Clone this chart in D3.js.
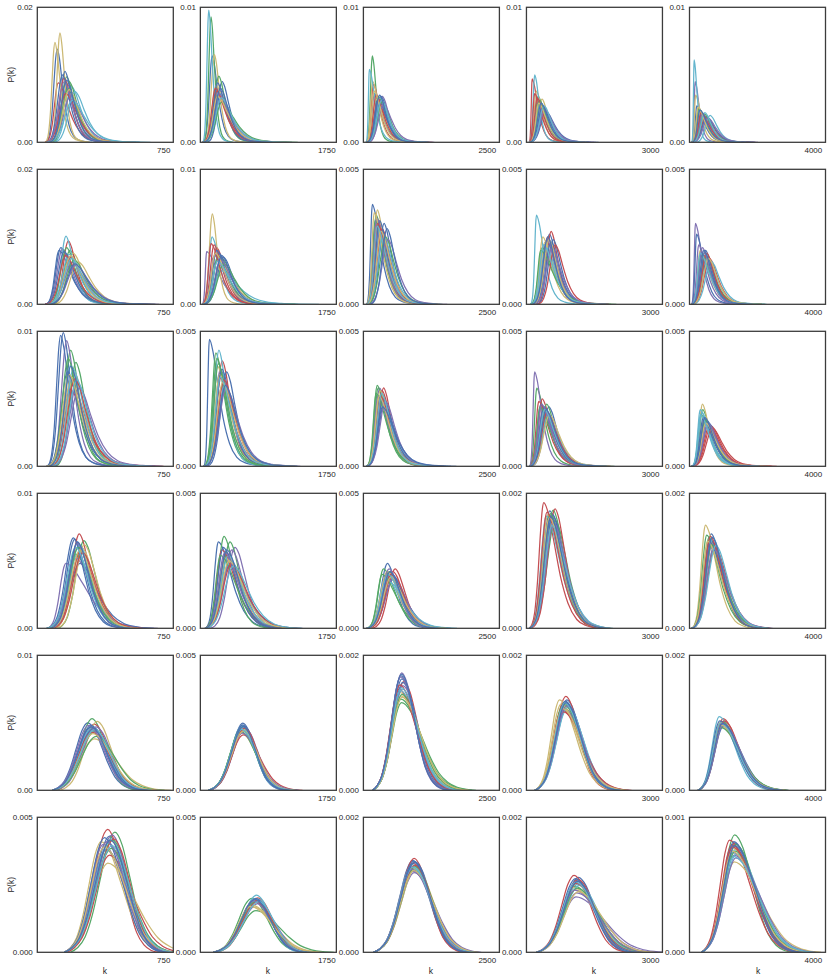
<!DOCTYPE html>
<html><head><meta charset="utf-8">
<script src="https://cdn.jsdelivr.net/npm/d3@7"></script>
<style>
body{margin:0;background:#fff}
svg{display:block}
text{font-family:"Liberation Sans",Arial,sans-serif;fill:#262626}
</style>
</head><body>
<svg id="chart" width="830" height="980"></svg>
<script>
// seaborn "deep" palette, cycled over the curves of every panel
const palette = ["#4C72B0", "#55A868", "#C44E52", "#8172B2", "#CCB974", "#64B5CD"];

// x axis per column: single tick label and upper limit of k
const xTickValues = [750, 1750, 2500, 3000, 4000];
const xDomainMax = [810, 1890, 2755, 3300, 4410];

// y axis upper limit (and tick) per row / column
const yMax = [
  [0.02, 0.01, 0.01, 0.01, 0.01],
  [0.02, 0.01, 0.005, 0.005, 0.005],
  [0.01, 0.005, 0.005, 0.005, 0.005],
  [0.01, 0.005, 0.005, 0.002, 0.002],
  [0.01, 0.005, 0.002, 0.002, 0.002],
  [0.005, 0.005, 0.002, 0.002, 0.001]
];

// smallest k where the curves of a panel start rising
const kStart = [
  [46, 33, 54, 65, 75],
  [46, 25, 60, 100, 65],
  [56, 48, 60, 73, 70],
  [56, 65, 68, 65, 70],
  [89, 110, 183, 206, 276],
  [160, 177, 203, 244, 380]
];

// curve shape templates (offset from the mode in width units, relative height)
const rowTemplate = [0, 0, 0, 1, 2, 3];
const templateU = [
  [-2.2, -1.8, -1.4, -1.0, -0.6, -0.3, 0, 0.4, 0.9, 1.5, 2.2, 3.0, 4.0, 5.2, 6.5],
  [-2.6, -2.1, -1.6, -1.1, -0.6, -0.25, 0, 0.4, 0.9, 1.5, 2.2, 3.0, 3.9, 5.0],
  [-3, -2.5, -2, -1.5, -1, -0.5, 0, 0.5, 1, 1.5, 2, 2.5, 3, 3.5, 4],
  [-3, -2.5, -2, -1.5, -1, -0.5, 0, 0.5, 1, 1.5, 2, 2.5, 3, 3.5]
];
const templateV = [
  [0, 0.02, 0.1, 0.3, 0.65, 0.9, 1, 0.9, 0.65, 0.38, 0.18, 0.07, 0.025, 0.008, 0],
  [0, 0.03, 0.13, 0.38, 0.75, 0.95, 1, 0.92, 0.7, 0.42, 0.2, 0.07, 0.02, 0],
  [0, 0.04, 0.13, 0.32, 0.6, 0.88, 1, 0.9, 0.66, 0.4, 0.2, 0.09, 0.035, 0.01, 0],
  [0, 0.04, 0.13, 0.32, 0.6, 0.88, 1, 0.89, 0.63, 0.36, 0.16, 0.06, 0.015, 0]
];

// per panel: each curve's mode [k, P(k) x 1e4], in drawing order
const row1Peaks = [
  [[119,138],[175,97],[125,88],[180,85],[135,162],[205,82],[165,105],[190,90],[160,95],[200,70],[105,148],[225,75],[150,100],[185,80],[170,72],[160,90],[190,78],[210,62],[175,92]],
  [[165,64],[149,93],[265,34],[250,40],[196,65],[117,98],[303,45],[257,49],[230,38],[280,32],[220,42],[270,36],[240,44],[300,30],[210,40],[260,36],[240,34],[290,33],[280,40]],
  [[223,36],[182,64],[203,43],[385,34],[189,45],[121,54],[360,34],[304,34],[280,30],[330,31],[250,32],[340,33],[300,32],[380,30],[260,35],[410,28],[220,38],[370,31],[330,35]],
  [[420,26],[284,34],[139,47],[300,30],[243,38],[202,50],[470,23],[350,28],[200,36],[400,25],[380,32],[330,30],[390,27],[320,31],[260,33],[450,24],[300,29],[430,27],[360,29]],
  [[238,27],[330,24],[450,20],[184,45],[200,35],[151,61],[400,22],[300,25],[520,19],[420,21],[350,23],[670,20],[560,19],[480,21],[380,22],[600,18],[280,26],[500,22],[340,24]]
];
const row2Peaks = [
  [[140,84],[195,80],[185,94],[150,82],[214,76],[171,101],[130,80],[175,84],[200,70],[210,62],[244,63],[190,74],[160,78],[220,66],[170,72],[230,58],[200,72],[205,68],[225,60]],
  [[321,35],[300,34],[227,42],[88,39],[167,67],[163,50],[260,38],[250,36],[190,44],[200,36],[280,30],[290,25],[230,40],[330,30],[150,45],[280,33],[210,38],[240,32],[300,36]],
  [[182,37],[260,33],[300,31],[350,29],[283,35],[320,28],[420,30],[240,31],[380,28],[270,32],[220,34],[400,26],[330,31],[450,25],[290,30],[500,24],[360,27],[280,29],[480,28]],
  [[560,26],[437,22],[600,27],[500,24],[450,23],[243,33],[650,24],[380,21],[520,25],[560,22],[400,25],[480,21],[600,23],[350,20],[700,22],[620,21],[550,24],[420,22],[520,25]],
  [[400,19],[450,17],[500,18],[194,30],[350,20],[600,17],[230,26],[550,18],[650,17],[300,22],[480,19],[700,16],[520,20],[380,18],[560,19],[420,21],[620,17],[350,19],[470,20]]
];
const row3Peaks = [
  [[155,99],[199,86],[210,60],[175,93],[220,70],[200,75],[139,97],[230,77],[195,57],[240,62],[205,66],[215,72],[180,70],[185,80],[225,65],[250,58],[190,68],[235,64],[200,74]],
  [[126,47],[216,42],[306,39],[280,36],[240,37],[258,43],[366,35],[230,40],[290,33],[320,31],[270,34],[340,30],[300,36],[250,38],[330,32],[360,29],[310,31],[280,33],[350,30]],
  [[360,27],[280,30],[411,29],[330,29],[380,27],[350,25],[420,23],[300,29],[380,28],[300,26],[340,28],[390,24],[400,25],[260,27],[350,26],[450,24],[320,26],[370,27],[390,22]],
  [[545,22],[251,29],[385,25],[199,35],[420,22],[480,20],[350,23],[492,23],[300,24],[400,21],[460,21],[520,19],[430,22],[330,22],[500,20],[370,23],[560,19],[440,21],[480,21]],
  [[560,17],[430,21],[700,15],[500,17],[420,23],[350,21],[620,16],[380,19],[650,15],[550,16],[480,18],[400,20],[450,18],[520,17],[750,14],[600,16],[530,16],[360,19],[500,18]]
];
const row4Peaks = [
  [[224,66],[278,65],[250,70],[170,48],[265,60],[240,55],[254,48],[230,55],[260,58],[230,52],[280,62],[250,62],[215,67],[245,60],[270,56],[240,63],[255,58],[230,60],[240,64]],
  [[251,32],[330,34],[360,28],[483,30],[380,27],[420,25],[400,23],[413,32],[300,29],[440,29],[350,26],[390,27],[320,30],[280,27],[430,24],[340,28],[400,25],[460,23],[370,29]],
  [[487,24],[406,22],[643,22],[550,21],[500,20],[450,19],[600,18],[520,21],[560,20],[620,19],[480,21],[530,17],[580,20],[380,20],[600,21],[520,22],[560,19],[500,20],[540,21]],
  [[566,17.4],[650,17.5],[420,18.6],[600,16.5],[520,16.8],[480,16.6],[620,17.0],[700,16.0],[696,17.7],[550,16.2],[600,15.5],[540,15.8],[640,16.8],[580,17.0],[500,17.2],[660,15.6],[560,16.4],[620,15.2],[590,16.5]],
  [[710,14.0],[640,13.5],[750,12.8],[600,12.5],[519,15.3],[800,12.2],[680,13.2],[560,13.8],[820,12.0],[700,12.6],[620,13.0],[760,13.4],[650,12.8],[720,12.4],[680,13.6],[780,11.8],[590,12.9],[860,12.3],[740,13.5]]
];
const row5Peaks = [
  [[300,50],[326,53],[340,49],[310,46],[357,51],[330,47],[320,48],[345,44],[330,45],[350,47],[340,38],[315,44],[335,46],[350,40],[325,43],[305,48],[330,42],[340,45],[320,47]],
  [[590,24.9],[575,23.5],[600,22.0],[620,23.0],[560,21.5],[585,24.0],[605,23.8],[570,22.5],[595,20.5],[610,22.2],[580,22.8],[600,23.2],[590,24.2],[560,21.8],[615,23.0],[580,21.2],[600,22.0],[575,22.6],[595,23.6]],
  [[760,17.0],[770,13.0],[818,16.1],[775,17.4],[740,14.5],[790,15.0],[780,16.5],[760,13.5],[720,15.0],[800,15.5],[760,14.0],[750,14.8],[795,16.0],[780,14.2],[740,15.6],[760,16.8],[780,13.8],[770,15.2],[770,17.2]],
  [[980,13.4],[900,13.0],[954,13.9],[920,12.2],[800,13.4],[960,13.1],[1000,12.6],[880,12.4],[860,12.0],[940,11.8],[840,12.8],[1000,12.3],[940,13.2],[920,12.7],[900,11.6],[970,12.5],[880,12.1],[930,12.9],[960,13.0]],
  [[1050,10.0],[1000,9.8],[1086,10.6],[1020,9.4],[980,9.6],[964,10.9],[1100,9.5],[1060,10.2],[1120,10.3],[1040,9.9],[1000,10.1],[1080,9.7],[980,10.3],[1030,9.3],[1060,10.0],[1100,9.8],[1040,9.6],[1010,10.0],[1070,9.9]]
];
const row6Peaks = [
  [[430,43.0],[462,44.5],[419,45.5],[393,40.0],[380,41.0],[440,42.0],[410,38.0],[450,41.5],[430,36.0],[445,43.5],[420,33.0],[425,40.5],[400,42.5],[440,38.5],[455,42.0],[415,41.0],[400,39.0],[445,39.5],[435,41.5]],
  [[780,19.5],[712,20.0],[800,20.2],[760,18.5],[740,16.7],[782,21.2],[790,19.0],[770,15.4],[750,19.2],[800,18.0],[720,17.5],[790,19.8],[770,20.0],[760,18.7],[780,18.5],[740,19.0],[700,17.0],[810,18.8],[760,19.6]],
  [[1000,13.6],[1030,12.4],[1027,13.9],[1010,12.0],[990,12.6],[1040,12.8],[1050,13.4],[1010,12.2],[1000,13.2],[1030,11.8],[1060,12.5],[990,13.0],[1020,13.5],[1050,12.7],[1040,12.9],[980,12.3],[1020,12.1],[1000,12.6],[1030,13.3]],
  [[1260,11.1],[1200,10.3],[1154,11.4],[1200,8.2],[1180,9.3],[1240,10.1],[1220,10.6],[1180,9.8],[1250,10.8],[1220,8.8],[1150,9.6],[1280,9.9],[1190,10.9],[1230,9.5],[1210,10.2],[1170,9.2],[1260,9.0],[1200,10.4],[1240,10.5]],
  [[1460,8.1],[1463,8.7],[1300,8.3],[1400,7.4],[1450,6.7],[1480,7.6],[1420,7.9],[1500,8.0],[1380,8.0],[1450,7.2],[1420,7.7],[1520,7.3],[1440,8.2],[1480,7.5],[1400,7.8],[1500,7.0],[1390,7.5],[1430,7.1],[1470,7.9]]
];
const allPeaks = [row1Peaks, row2Peaks, row3Peaks, row4Peaks, row5Peaks, row6Peaks];

// ---------- layout ----------
const panelW = 136, panelH = 135;
const left0 = 37.3, top0 = 7.3, stepX = 163.05, stepY = 162;
const textColor = "#262626";

const svg = d3.select("#chart");

function templateAreas(t) {
  const u = templateU[t], v = templateV[t];
  let al = 0, ar = 0;
  for (let i = 0; i < u.length - 1; i++) {
    const a = (u[i + 1] - u[i]) * (v[i] + v[i + 1]) / 2;
    if (u[i + 1] <= 0) al += a; else ar += a;
  }
  return [al, ar];
}
const areas = templateU.map((_, t) => templateAreas(t));

function curvePoints(t, peakK, peakP, ks) {
  const u = templateU[t], v = templateV[t];
  const [al, ar] = areas[t];
  const w0 = 1 / (peakP * (al + ar));
  const L = -u[0];
  let wl = Math.min(w0, (peakK - ks) / L);
  wl = Math.max(wl, 0.15 * w0);
  const wr = Math.max((1 / peakP - wl * al) / ar, wl * 0.8);
  return u.map((uu, i) => [peakK + uu * (uu < 0 ? wl : wr), peakP * v[i]]);
}

const line = d3.line().curve(d3.curveMonotoneX);

for (let r = 0; r < 6; r++) {
  for (let c = 0; c < 5; c++) {
    const g = svg.append("g")
      .attr("transform", `translate(${left0 + c * stepX},${top0 + r * stepY})`);
    const x = d3.scaleLinear().domain([0, xDomainMax[c]]).range([0, panelW]);
    const y = d3.scaleLinear().domain([0, yMax[r][c]]).range([panelH, 0]);
    const clipId = `clip-${r}-${c}`;
    g.append("clipPath").attr("id", clipId)
      .append("rect").attr("width", panelW).attr("height", panelH);
    const plot = g.append("g").attr("clip-path", `url(#${clipId})`);
    const t = rowTemplate[r];
    allPeaks[r][c].forEach((pk, i) => {
      const pts = curvePoints(t, pk[0], pk[1] * 1e-4, kStart[r][c]);
      plot.append("path")
        .attr("d", line.x(d => x(d[0])).y(d => y(d[1]))(pts))
        .attr("fill", "none")
        .attr("stroke", palette[i % palette.length])
        .attr("stroke-width", 1.25)
        .attr("stroke-linejoin", "round");
    });

    const dec = yMax[r][c] >= 0.01 ? 2 : 3;
    const yAxis = d3.axisLeft(y).tickValues([0, yMax[r][c]]).tickSize(0).tickPadding(4.5)
      .tickFormat(d3.format(`.${dec}f`));
    const ya = g.append("g").call(yAxis);
    ya.select(".domain").remove();
    ya.selectAll("text").style("font-size", "8px").style("fill", textColor);

    const xAxis = d3.axisBottom(x).tickValues([xTickValues[c]]).tickSize(0).tickPadding(5)
      .tickFormat(d3.format("d"));
    const xa = g.append("g").attr("transform", `translate(0,${panelH})`).call(xAxis);
    xa.select(".domain").remove();
    xa.selectAll("text").style("font-size", "8px").style("fill", textColor);

    g.append("rect").attr("width", panelW).attr("height", panelH)
      .attr("fill", "none").attr("stroke", "#3c3c3c").attr("stroke-width", 1.3);

    if (c === 0) {
      g.append("text").attr("transform", `translate(-23,${panelH / 2}) rotate(-90)`)
        .attr("text-anchor", "middle").style("font-size", "8.5px").style("fill", textColor)
        .text("P(k)");
    }
    if (r === 5) {
      g.append("text").attr("x", Math.round(left0 + c * stepX + panelW / 2) - (left0 + c * stepX))
        .attr("y", panelH + 22)
        .attr("text-anchor", "middle").style("font-size", "8.5px").style("fill", textColor)
        .text("k");
    }
  }
}
</script>
</body></html>
